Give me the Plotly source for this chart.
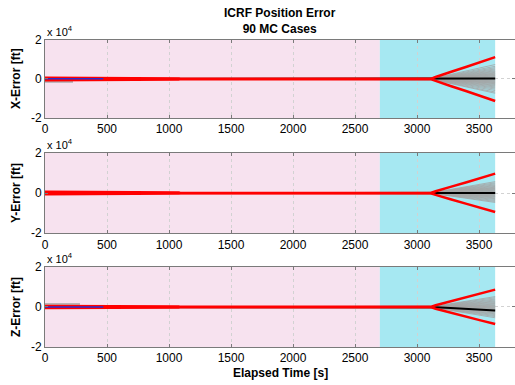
import plotly.graph_objects as go

# ---------------- data ----------------
x_ticks = [0, 500, 1000, 1500, 2000, 2500, 3000, 3500]
y_ticks = [-20000, 0, 20000]
y_ticktext = ["-2", "0", "2"]

phase1_span = [0, 2700]      # pink region
phase2_span = [2700, 3630]   # cyan region

panel_labels = ["X-Error [ft]", "Y-Error [ft]", "Z-Error [ft]"]

# red 3-sigma envelopes
t_red = [0, 470, 480, 1080, 1090, 3110, 3150, 3200, 3270, 3400, 3520, 3630]
x_red_hi = [600, 600, 250, 250, 80, 80, 1000, 2200, 3600, 6300, 8800, 11200]
x_red_lo = [-600, -600, -250, -250, -80, -80, -1000, -2200, -3600, -6300, -8900, -11300]
y_red_hi = [600, 600, 250, 250, 80, 80, 900, 1900, 3100, 5400, 7600, 9700]
y_red_lo = [-600, -600, -250, -250, -80, -80, -900, -1900, -3100, -5400, -7500, -9500]
z_red_hi = [500, 500, 250, 250, 80, 80, 850, 1700, 2800, 4900, 6900, 8700]
z_red_lo = [-500, -500, -250, -250, -80, -80, -850, -1700, -2800, -4800, -6800, -8500]

# Monte-Carlo dispersion growth profile (fraction of final value)
t_fan = [0, 3110, 3150, 3270, 3400, 3520, 3630]
fan_profile = [0.0, 0.0, 0.09, 0.32, 0.56, 0.79, 1.0]

# final error of individual MC cases at t = 3630 s
x_mc_final = [7400, 6500, 5800, 5200, 4700, 4200, 3800, 3400, 3000, 2700, 2400, 2100, 1800, 1500,
              1200, 900, 600, 300, 0, -300, -600, -900, -1200, -1500, -1800, -2100, -2400,
              -2800, -3200, -3600, -4100, -4600, -5200, -5900, -6700, -7300]
y_mc_final = [5700, 5100, 4600, 4100, 3700, 3300, 2900, 2600, 2300, 2000, 1700, 1400, 1100, 800,
              500, 250, 0, -250, -500, -800, -1100, -1400, -1700, -2000, -2400, -2800,
              -3200, -3700, -4200, -4700]
z_mc_final = [5200, 4600, 4000, 3500, 3000, 2600, 2200, 1800, 1400, 1000, 700, 400, 100, -200,
              -500, -800, -1100, -1400, -1700, -2000, -2300, -2600, -3000, -3400, -3800,
              -4300, -4800, -5400]

# mean (black) final values
mean_final = [300, 0, -1700]

# early gray MC segments
t_early_gray = [[0, 226], [], [0, 282]]
v_early_gray = [[-1500, -1500], [], [1500, 1500]]

# blue reference segment
t_blue = [[0, 470], [], [0, 470]]
v_blue = [[100, 100], [], [0, 0]]

reds_hi = [x_red_hi, y_red_hi, z_red_hi]
reds_lo = [x_red_lo, y_red_lo, z_red_lo]
mc_finals = [x_mc_final, y_mc_final, z_mc_final]

# ---------------- figure ----------------
W, H = 515, 385
ML, MR, MT, MB = 45, 0, 40, 38
domains = [[0.746, 1.0], [0.371, 0.632], [0.0, 0.2606]]

FONT = "Liberation Sans, Arial, Helvetica, sans-serif"
fig = go.Figure()

for i in range(3):
    xa = "x" if i == 0 else f"x{i+1}"
    ya = "y" if i == 0 else f"y{i+1}"
    # gray MC cases
    for f in mc_finals[i]:
        fig.add_trace(go.Scatter(x=t_fan, y=[f * p for p in fan_profile], mode="lines",
                                 line=dict(color="#a3a3a3", width=0.8), xaxis=xa, yaxis=ya,
                                 showlegend=False, hoverinfo="skip"))
    if t_early_gray[i]:
        fig.add_trace(go.Scatter(x=t_early_gray[i], y=v_early_gray[i], mode="lines",
                                 line=dict(color="#a3a3a3", width=1.5), xaxis=xa, yaxis=ya,
                                 showlegend=False, hoverinfo="skip"))
    # mean
    fig.add_trace(go.Scatter(x=t_fan, y=[mean_final[i] * p for p in fan_profile], mode="lines",
                             line=dict(color="black", width=2), xaxis=xa, yaxis=ya,
                             showlegend=False, hoverinfo="skip"))
    # envelopes
    for arr in (reds_hi[i], reds_lo[i]):
        fig.add_trace(go.Scatter(x=t_red, y=arr, mode="lines",
                                 line=dict(color="#ff0000", width=2.5),
                                 xaxis=xa, yaxis=ya, showlegend=False, hoverinfo="skip"))
    if t_blue[i]:
        fig.add_trace(go.Scatter(x=t_blue[i], y=v_blue[i], mode="lines",
                                 line=dict(color="#2a2ad0", width=1.5), xaxis=xa, yaxis=ya,
                                 showlegend=False, hoverinfo="skip"))

    # shaded phases
    for span, col in ((phase1_span, "#f7e2ef"), (phase2_span, "#a6e8f2")):
        fig.add_shape(type="rect", xref=xa, yref=f"{ya} domain", x0=span[0], x1=span[1],
                      y0=0, y1=1, fillcolor=col, line=dict(width=0), layer="below")

    axis_common = dict(showline=True, linecolor="#7a7a7a", linewidth=1, mirror="ticks",
                       ticks="inside", ticklen=3, tickcolor="#7a7a7a", showgrid=True,
                       gridcolor="#d2d2d2", griddash="dot", gridwidth=1, zeroline=False,
                       tickfont=dict(family=FONT, size=12, color="black"))
    fig.layout[("xaxis" if i == 0 else f"xaxis{i+1}")] = dict(
        domain=[0, 1], anchor=ya, range=[0, 3790], tickvals=x_ticks, **axis_common)
    fig.layout[("yaxis" if i == 0 else f"yaxis{i+1}")] = dict(
        domain=domains[i], anchor=xa, range=[-20000, 20000], tickvals=y_ticks,
        ticktext=y_ticktext, **axis_common)

    # y label
    fig.add_annotation(text=f"<b>{panel_labels[i]}</b>", xref="paper", yref=f"{ya} domain",
                       x=(16 - ML) / (W - ML - MR), y=0.5, textangle=-90, showarrow=False,
                       xanchor="center", yanchor="middle",
                       font=dict(family=FONT, size=12, color="black"))
    # exponent
    fig.add_annotation(text="x 10<sup>4</sup>", xref="paper", yref=f"{ya} domain",
                       x=0, y=1, xanchor="left", yanchor="bottom", showarrow=False,
                       font=dict(family=FONT, size=11, color="black"), yshift=0)

fig.add_annotation(text="<b>ICRF Position Error</b><br><b>90 MC Cases</b>", xref="paper",
                   yref="paper", x=0.5, y=1.0, yshift=2, xanchor="center", yanchor="bottom",
                   showarrow=False, font=dict(family=FONT, size=12, color="black"))
fig.add_annotation(text="<b>Elapsed Time [s]</b>", xref="paper", yref="paper", x=0.5, y=0,
                   yshift=-17, xanchor="center", yanchor="top", showarrow=False,
                   font=dict(family=FONT, size=12, color="black"))

fig.update_layout(width=W, height=H, margin=dict(l=ML, r=MR, t=MT, b=MB),
                  paper_bgcolor="white", plot_bgcolor="white", showlegend=False)

fig.write_html("out.html")
